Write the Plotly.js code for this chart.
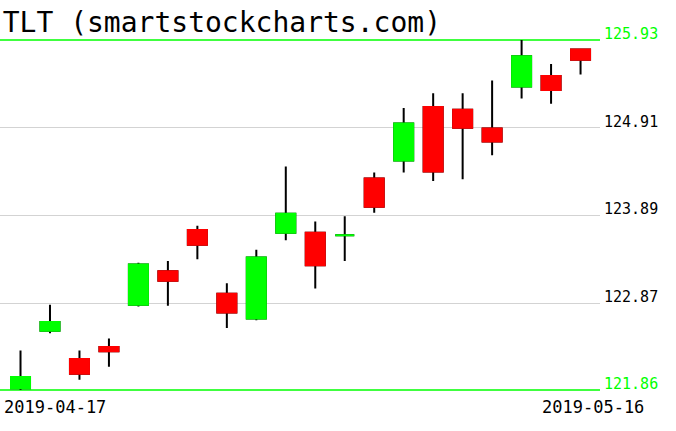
<!DOCTYPE html>
<html>
<head>
<meta charset="utf-8">
<script src="https://cdn.plot.ly/plotly-3.0.1.min.js"></script>
<style>
  html, body { margin: 0; padding: 0; background: #fff; }
  #chart { width: 676px; height: 431px; }
</style>
</head>
<body>
<div id="chart"></div>
<script>
// ---- data ----
const chartTitle = 'TLT (smartstockcharts.com)';
const dates = ['2019-04-17','2019-04-18','2019-04-22','2019-04-23','2019-04-24','2019-04-25','2019-04-26',
               '2019-04-29','2019-04-30','2019-05-01','2019-05-02','2019-05-06','2019-05-07','2019-05-08',
               '2019-05-09','2019-05-10','2019-05-13','2019-05-14','2019-05-15','2019-05-16'];
const openP  = [121.88,122.55,122.22,122.36,122.85,123.24,123.72,122.98,122.69,123.69,
                123.69,123.66,124.32,124.53,125.15,125.12,124.90,125.39,125.51,125.82];
const highP  = [122.32,122.85,122.32,122.46,123.34,123.36,123.77,123.10,123.49,124.46,
                123.82,123.88,124.39,125.14,125.31,125.31,125.46,125.93,125.65,125.83];
const lowP   = [121.86,122.52,121.98,122.13,122.83,122.84,123.38,122.58,122.67,123.60,
                123.04,123.36,123.92,124.39,124.29,124.31,124.59,125.25,125.19,125.53];
const closeP = [122.01,122.65,122.05,122.31,123.32,123.13,123.55,122.76,123.40,123.91,
                123.31,123.66,123.99,124.96,124.40,124.91,124.75,125.74,125.35,125.70];
const levels = [121.86, 122.87, 123.89, 124.91, 125.93];
const levelLabels = ['121.86','122.87','123.89','124.91','125.93'];

// ---- styles ----
const UP = '#00ff00', DOWN = '#ff0000', GRID = '#d3d3d3';
const FONT = 'DejaVu Sans Mono, monospace';

const bodyHigh = openP.map((o, i) => Math.max(o, closeP[i]));
const bodyLow  = openP.map((o, i) => Math.min(o, closeP[i]));

const wicks = {
  type: 'candlestick', x: dates, open: openP, high: highP, low: lowP, close: closeP,
  increasing: { line: { color: '#000', width: 2 }, fillcolor: '#000' },
  decreasing: { line: { color: '#000', width: 2 }, fillcolor: '#000' },
  whiskerwidth: 0, hoverinfo: 'skip', showlegend: false
};
const bodies = {
  type: 'candlestick', x: dates, open: openP, high: bodyHigh, low: bodyLow, close: closeP,
  increasing: { line: { color: UP, width: 2 }, fillcolor: UP },
  decreasing: { line: { color: DOWN, width: 2 }, fillcolor: DOWN },
  whiskerwidth: 0, showlegend: false
};

const edgeLevels = [levels[0], levels[levels.length - 1]];
const innerLevels = levels.slice(1, -1);

const shapes = edgeLevels.map(v => ({
  type: 'line', xref: 'paper', x0: 0, x1: 1, yref: 'y', y0: v, y1: v,
  line: { color: UP, width: 1.5 }, layer: 'below'
}));

const annotations = levels.map((v, i) => ({
  xref: 'paper', x: 1, xanchor: 'left', xshift: 2,
  yref: 'y', y: v, yanchor: 'bottom', yshift: -5,
  text: levelLabels[i], showarrow: false,
  font: { family: FONT, size: 15, color: (i === 0 || i === levels.length - 1) ? UP : '#000' }
}));
annotations.unshift(
  { xref: 'paper', x: 0, xanchor: 'left', xshift: 2, yref: 'paper', y: 0, yanchor: 'top', yshift: -3,
    text: dates[0], showarrow: false, font: { family: FONT, size: 17, color: '#000' } },
  { xref: 'paper', x: 646 / 600, xanchor: 'right', yref: 'paper', y: 0, yanchor: 'top', yshift: -3,
    text: dates[dates.length - 1], showarrow: false, font: { family: FONT, size: 17, color: '#000' } }
);

const n = dates.length;
// small padding so the edge lines are fully inside the plot area (2px each side)
const pxVal = (levels[levels.length - 1] - levels[0]) / 350;
const layout = {
  width: 676, height: 431,
  margin: { l: 0, r: 76, t: 38, b: 39 },
  paper_bgcolor: '#fff', plot_bgcolor: '#fff',
  showlegend: false,
  boxgap: 0.355, boxgroupgap: 0,
  title: {
    text: chartTitle, x: 0.004, xanchor: 'left', xref: 'container',
    y: 1 - 12 / 431, yanchor: 'top', yref: 'container',
    font: { family: FONT, size: 28, color: '#000', weight: 300 }
  },
  xaxis: {
    type: 'category', range: [-0.696, n - 1 + 0.66],
    showgrid: false, showticklabels: false, ticks: '', zeroline: false, showline: false,
    rangeslider: { visible: false }, fixedrange: true
  },
  yaxis: {
    range: [levels[0] - 2 * pxVal, levels[levels.length - 1] + 2 * pxVal],
    tickvals: innerLevels, showticklabels: false, ticks: '',
    showgrid: true, gridcolor: GRID, gridwidth: 1,
    zeroline: false, showline: false, fixedrange: true
  },
  shapes: shapes,
  annotations: annotations
};

Plotly.newPlot('chart', [wicks, bodies], layout, { displayModeBar: false, staticPlot: true });
</script>
</body>
</html>
